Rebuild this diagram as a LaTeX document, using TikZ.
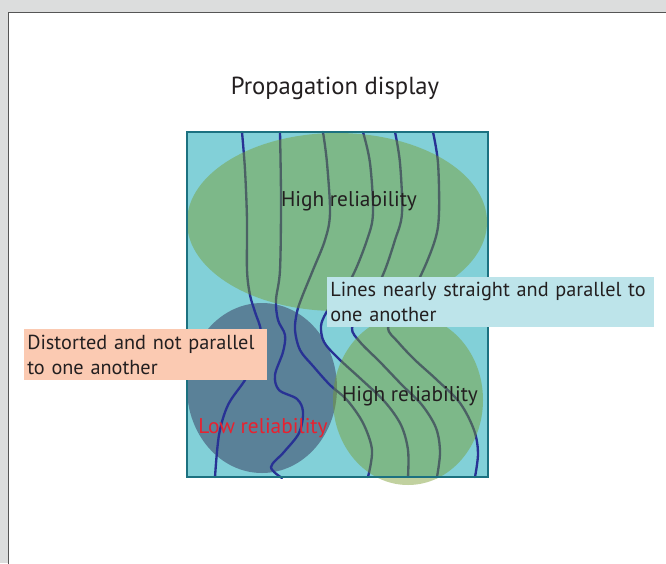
\documentclass[tikz,border=0pt]{standalone}
\usepackage{fontspec}
\setmainfont{PT Sans}
\definecolor{pagegray}{RGB}{220,221,221}
\definecolor{framegray}{RGB}{85,85,85}
\definecolor{panelfill}{RGB}{130,208,216}
\definecolor{paneledge}{RGB}{28,113,128}
\definecolor{blobdark}{RGB}{90,129,152}
\definecolor{blobgreen}{RGB}{119,155,43}
\definecolor{wavecol}{RGB}{40,50,148}
\definecolor{peach}{RGB}{251,202,178}
\definecolor{paleblue}{RGB}{189,228,234}
\definecolor{textdark}{RGB}{35,31,32}
\definecolor{lowred}{RGB}{232,33,47}
\tikzset{
  wave/.style={draw=wavecol, line width=1.75pt, line cap=round},
  greenblob/.style={fill=blobgreen, fill opacity=0.45},
  lbl/.style={text=textdark, font=\fontsize{16}{18.75}\selectfont, inner sep=0pt},
  notebox/.style={text=textdark, font=\fontsize{15.2}{18.75}\selectfont, anchor=north west, inner xsep=2.25pt, inner ysep=0pt, align=left}
}
\begin{document}
\begin{tikzpicture}[x=0.75pt,y=-0.75pt]
\useasboundingbox (0,0) rectangle (666,563);
% page
\fill[pagegray] (0,0) rectangle (666,563);
\fill[white] (8.5,12.5) rectangle (680,580);
\draw[framegray, line width=1pt] (8.5,580) -- (8.5,12.5) -- (680,12.5);
% title
\node[lbl, font=\fontsize{18.5}{22}\selectfont] (title) at (335,88) {Propagation display};
% panel
\fill[panelfill] (187,132) rectangle (488,477);
% low reliability blob
\fill[blobdark] (262,388) ellipse [x radius=56.25pt, y radius=63.75pt];
% wave lines
\draw[wave] plot[smooth, tension=0.55] coordinates {(242,132) (245,170) (247,220) (247,270) (250,295) (255,312) (261,332) (257,357) (245,380) (228,405) (219,435) (215,477)};
\draw[wave] plot[smooth, tension=0.55] coordinates {(280,132) (281,200) (280,270) (276,300) (278,320) (285,335) (283,352) (275,375) (279,390) (297,399) (303,412) (299,433) (284,452) (271,467) (282,478)};
\draw[wave] plot[smooth, tension=0.55] coordinates {(323,132) (327,163) (330,213) (325,240) (313,270) (302,297) (297,312) (295,330) (300,350) (313,366) (330,385) (347,400) (363,423) (372,450) (368,477)};
\draw[wave] plot[smooth, tension=0.55] coordinates {(363,132) (370,163) (373,213) (367,240) (352,277) (335,300) (326,313) (321,326) (324,342) (338,358) (362,380) (385,402) (401,425) (408,450) (408,477)};
\draw[wave] plot[smooth, tension=0.55] coordinates {(395,132) (400,163) (402,213) (395,240) (382,277) (363,308) (352,328) (360,342) (380,362) (402,385) (422,405) (436,428) (440,452) (437,477)};
\draw[wave] plot[smooth, tension=0.55] coordinates {(433,132) (438,163) (439,213) (435,240) (420,277) (400,310) (388,328) (398,342) (415,360) (437,380) (460,403) (474,430) (478,453) (475,477)};
% green blobs
\fill[greenblob] (337,222) ellipse [x radius=112.5pt, y radius=66.75pt];
\fill[greenblob] (408,400) ellipse [x radius=56.25pt, y radius=63.75pt];
% panel border
\draw[paneledge, line width=1.1pt] (187,132) rectangle (488,477);
% labels
\node[lbl] (hightop) at (349,201) {High reliability};
\node[lbl] (highbot) at (410,396) {High reliability};
\node[lbl, text=lowred] (low) at (263,428) {Low reliability};
\node[notebox, fill=peach, minimum width=182.25pt, text width=177.75pt, minimum height=38.25pt] (distorted) at (24,329) {\mbox{Distorted and not parallel}\\\mbox{to one another}};
\node[notebox, fill=paleblue, minimum width=245.25pt, text width=240.75pt, minimum height=37.5pt] (straight) at (327,277) {\mbox{Lines nearly straight and parallel to}\\\mbox{one another}};
\end{tikzpicture}
\end{document}
